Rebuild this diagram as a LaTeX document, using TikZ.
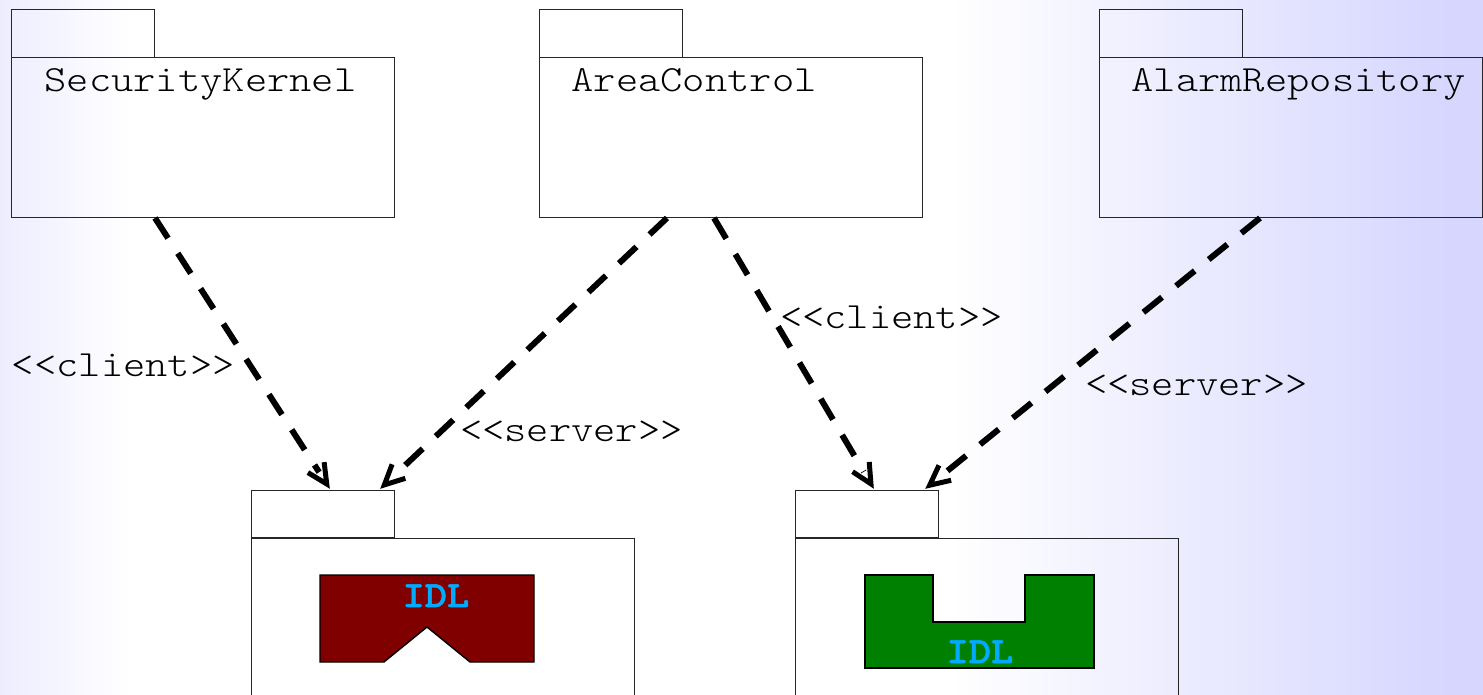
\documentclass[tikz,border=0pt]{standalone}
\usepackage{fontspec}
\setmonofont[FakeStretch=1.15,BoldFeatures={FakeBold=1.5}]{Latin Modern Mono Light}
\usetikzlibrary{calc}
\definecolor{leftbg}{HTML}{EDEDFF}
\definecolor{rightbg}{HTML}{D6D6FF}
\definecolor{idlblue}{HTML}{00AAFF}
\definecolor{idlred}{HTML}{800000}
\definecolor{idlgreen}{HTML}{008000}
\tikzset{
  x=1pt,y=-1pt,
  pkg/.style={draw=black!85,line width=1pt,fill=none,inner sep=0pt,outer sep=0pt,anchor=north west},
  tabbox/.style={pkg,minimum width=143.6pt,minimum height=47.6pt},
  bodybox/.style={pkg,minimum width=383.6pt},
  label text/.style={font=\ttfamily\fontsize{36.9}{40}\selectfont,inner sep=0pt,outer sep=0pt,anchor=base west,text=black},
  idl/.style={font=\ttfamily\bfseries\fontsize{36.9}{40}\selectfont,inner sep=0pt,outer sep=0pt,anchor=base west,text=idlblue},
  dep/.style={draw=black,line width=6pt,dash pattern=on 24pt off 18pt},
  dephead/.style={draw=black,line width=5pt,line join=miter,miter limit=10},
  shape line/.style={draw=black,line width=1.4pt,line join=miter},
}
\newcommand{\depline}[2]{%
  \draw[dep] (#1) -- ($(#2)!20pt!(#1)$);
  \coordinate (vtx) at ($(#2)!6pt!(#1)$);
  \draw[dephead] ($(vtx)!22pt!26:(#1)$) -- (vtx) -- ($(vtx)!22pt!-26:(#1)$);
}
\begin{document}
\begin{tikzpicture}
\useasboundingbox (0,0) rectangle (1483,695);
\clip (0,0) rectangle (1483,695);
% background
\fill[white] (0,0) rectangle (1483,695);
\shade[left color=leftbg,right color=white,draw=none] (0,0) rectangle (130,695);
\shade[left color=white,right color=rightbg,draw=none] (950,0) rectangle (1450,695);
\fill[rightbg] (1449.5,0) rectangle (1483,695);
% packages
\node[tabbox] (sktab) at (11,10) {};
\node[bodybox,minimum height=159.6pt] (sk) at (11,58) {};
\node[tabbox] (actab) at (539,10) {};
\node[bodybox,minimum height=159.6pt] (ac) at (539,58) {};
\node[tabbox] (artab) at (1099,10) {};
\node[bodybox,minimum height=159.6pt] (ar) at (1099,58) {};
\node[tabbox] (ltab) at (251,490) {};
\node[bodybox,minimum height=190pt] (lp) at (251,538) {};
\node[tabbox] (rtab) at (795,490) {};
\node[bodybox,minimum height=190pt] (rp) at (795,538) {};
% package names
\node[label text] (skname) at (44.5,92) {SecurityKernel};
\node[label text] (acname) at (571.5,92) {AreaControl};
\node[label text] (arname) at (1131.5,92) {AlarmRepository};
% IDL shapes
\draw[shape line,fill=idlred] (320,575) -- (534,575) -- (534,662) -- (470,662) -- (427,627) -- (384,662) -- (320,662) -- cycle;
\draw[shape line,fill=idlgreen] (865,575) -- (933,575) -- (933,622) -- (1025,622) -- (1025,575) -- (1094,575) -- (1094,668) -- (865,668) -- cycle;
\node[idl] (idla) at (402.5,607) {IDL};
\node[idl] (idlb) at (946.5,663) {IDL};
% connector ends
\coordinate (a0) at (155,218);
\coordinate (a1) at (330,489);
\coordinate (b0) at (667,218);
\coordinate (b1) at (380,489);
\coordinate (c0) at (714,218);
\coordinate (c1) at (874,489);
\coordinate (d0) at (1260,218);
\coordinate (d1) at (925,489);
\depline{a0}{a1}
\depline{b0}{b1}
\depline{c0}{c1}
\depline{d0}{d1}
% labels
\node[label text] (l1) at (12,376) {<{}<client>{}>};
\node[label text] (l2) at (460,441) {<{}<server>{}>};
\node[label text] (l3) at (780,328) {<{}<client>{}>};
\node[label text] (l4) at (1085,395) {<{}<server>{}>};
\end{tikzpicture}
\end{document}
